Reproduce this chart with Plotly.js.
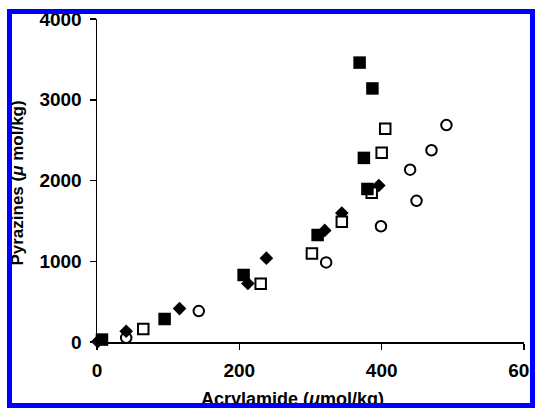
<!DOCTYPE html>
<html>
<head>
<meta charset="utf-8">
<script src="https://cdn.plot.ly/plotly-3.0.1.min.js"></script>
<style>
  html, body { margin: 0; padding: 0; background: #ffffff; overflow: hidden; }
  #chart { width: 535px; height: 408px; position: relative; }
  #frame { position: absolute; left: 7px; top: 9px; width: 528px; height: 399px;
           box-sizing: border-box; border: 5px solid #0000ff; pointer-events: none; }
</style>
</head>
<body>
<div id="chart"></div>
<div id="frame"></div>
<script>
// Series (x = acrylamide µmol/kg, y = pyrazines µmol/kg)
const filledSquareX = [7, 95, 206, 310, 375, 380, 369, 387];
const filledSquareY = [30, 285, 830, 1325, 2280, 1895, 3460, 3140];

const openSquareX = [65, 230, 302, 344, 386, 400, 405];
const openSquareY = [160, 722, 1097, 1490, 1847, 2344, 2641];

const diamondX = [1, 41, 116, 212, 238, 320, 344, 396];
const diamondY = [5, 133, 414, 725, 1038, 1382, 1597, 1938];

const circleX = [41, 143, 322, 399, 449, 440, 470, 491];
const circleY = [52, 383, 986, 1433, 1748, 2134, 2375, 2686];

const xTickVals = [0, 200, 400, 600];
const xTickText = ['0', '200', '400', '600'];
const yTickVals = [0, 1000, 2000, 3000, 4000];
const yTickText = ['0', '1000', '2000', '3000', '4000'];

const xTitle = 'Acrylamide (<i>μ</i>mol/kg)';
const yTitle = 'Pyrazines (<i>μ</i> mol/kg)';

const FONT = 'Liberation Sans, Arial, sans-serif';

const traces = [
  { x: circleX, y: circleY, type: 'scatter', mode: 'markers', name: 'circles',
    cliponaxis: false,
    marker: { symbol: 'circle', size: 10.5, color: '#ffffff', line: { color: '#000000', width: 2 } } },
  { x: diamondX, y: diamondY, type: 'scatter', mode: 'markers', name: 'diamonds',
    cliponaxis: false,
    marker: { symbol: 'diamond', size: 10.5, color: '#000000', line: { color: '#000000', width: 0 } } },
  { x: openSquareX, y: openSquareY, type: 'scatter', mode: 'markers', name: 'open squares',
    cliponaxis: false,
    marker: { symbol: 'square', size: 10.5, color: '#ffffff', line: { color: '#000000', width: 2 } } },
  { x: filledSquareX, y: filledSquareY, type: 'scatter', mode: 'markers', name: 'filled squares',
    cliponaxis: false,
    marker: { symbol: 'square', size: 12.5, color: '#000000', line: { color: '#000000', width: 0 } } }
];

const layout = {
  width: 535, height: 408,
  margin: { l: 97, r: 11, t: 19, b: 66 },
  paper_bgcolor: '#ffffff', plot_bgcolor: '#ffffff',
  showlegend: false,
  font: { family: FONT, color: '#000000' },
  xaxis: {
    range: [0, 600], tickmode: 'array', tickvals: xTickVals, ticktext: xTickText,
    showgrid: false, zeroline: false, showline: true, linecolor: '#000000', linewidth: 2,
    ticks: 'outside', ticklen: 6, tickwidth: 1.5, tickcolor: '#000000',
    ticklabelstandoff: 4, ticklabeloverflow: 'allow',
    tickfont: { family: FONT, size: 19, weight: 'bold', color: '#000000' }
  },
  yaxis: {
    range: [0, 4000], tickmode: 'array', tickvals: yTickVals, ticktext: yTickText,
    showgrid: false, zeroline: false, showline: true, linecolor: '#000000', linewidth: 1.5,
    ticks: 'outside', ticklen: 6, tickwidth: 1.5, tickcolor: '#000000',
    ticklabelstandoff: 4, ticklabeloverflow: 'allow',
    tickfont: { family: FONT, size: 19, weight: 'bold', color: '#000000' }
  },
  annotations: [
    { text: xTitle, xref: 'paper', yref: 'paper', x: 0.4576, y: -0.178,
      xanchor: 'center', yanchor: 'middle', showarrow: false,
      font: { family: FONT, size: 18, weight: 'bold', color: '#000000' } },
    { text: yTitle, xref: 'paper', yref: 'paper', x: -0.187, y: 0.491, textangle: -90,
      xanchor: 'center', yanchor: 'middle', showarrow: false,
      font: { family: FONT, size: 17, weight: 'bold', color: '#000000' } }
  ]
};

Plotly.newPlot('chart', traces, layout, { displayModeBar: false, staticPlot: true });
</script>
</body>
</html>
